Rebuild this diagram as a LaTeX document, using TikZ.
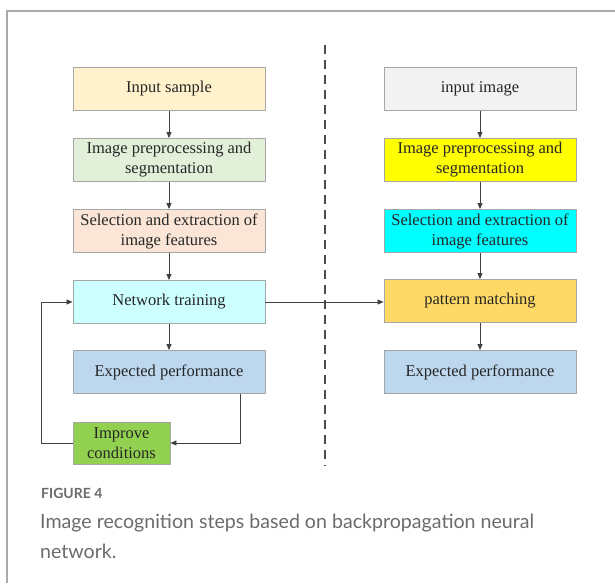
\documentclass[tikz,border=0pt]{standalone}
\usepackage{fontspec}
\setmainfont{Liberation Serif}
\newfontfamily\capfont{Lato}
\usetikzlibrary{arrows.meta}
\definecolor{frameclr}{HTML}{AAAAAA}
\definecolor{edgeclr}{HTML}{A6A6A6}
\definecolor{sampleclr}{HTML}{FFF2CC}
\definecolor{preclr}{HTML}{E2F0D9}
\definecolor{selclr}{HTML}{FBE5D6}
\definecolor{trainclr}{HTML}{CCFFFF}
\definecolor{perfclr}{HTML}{BDD7EE}
\definecolor{improveclr}{HTML}{92D050}
\definecolor{inimgclr}{HTML}{F2F2F2}
\definecolor{brightyellow}{HTML}{FFFF00}
\definecolor{brightcyan}{HTML}{00FFFF}
\definecolor{matchclr}{HTML}{FFD966}
\definecolor{captionclr}{HTML}{6B6B6B}
\tikzset{
  stepbox/.style={draw=edgeclr, line width=0.9pt, minimum width=192pt,
    minimum height=43pt, inner sep=0pt, align=center,
    font=\fontsize{16.5}{20}\selectfont, text=black!85},
  flow/.style={draw=black!75, line width=0.8pt,
    -{Triangle[length=6pt,width=5pt]}},
}
\begin{document}
\begin{tikzpicture}[x=1pt,y=-1pt]
  \useasboundingbox (0,0) rectangle (615,583);
  % card outline
  \draw[frameclr, line width=1.5pt] (7,583) -- (7,11) -- (615,11);

  % training column
  \node[stepbox, fill=sampleclr] (s1) at (169,89) {Input sample};
  \node[stepbox, fill=preclr] (s2) at (169,160) {Image preprocessing and\\segmentation};
  \node[stepbox, fill=selclr] (s3) at (169,231) {Selection and extraction of\\image features};
  \node[stepbox, fill=trainclr] (s4) at (169,302) {Network training};
  \node[stepbox, fill=perfclr] (s5) at (169,372) {Expected performance};
  \node[stepbox, fill=improveclr, minimum width=97pt, minimum height=42pt]
    (s6) at (121.5,443) {Improve\\conditions};

  % recognition column
  \node[stepbox, fill=inimgclr] (r1) at (480,89) {input image};
  \node[stepbox, fill=brightyellow] (r2) at (480,160) {Image preprocessing and\\segmentation};
  \node[stepbox, fill=brightcyan] (r3) at (480,231) {Selection and extraction of\\image features};
  \node[stepbox, fill=matchclr] (r4) at (480,301) {pattern matching};
  \node[stepbox, fill=perfclr] (r5) at (480,372) {Expected performance};

  % separator
  \draw[black!70, line width=1.2pt, dash pattern=on 9pt off 6pt] (325,45) -- (325,466);

  % arrows
  \draw[flow] (s1) -- (s2);
  \draw[flow] (s2) -- (s3);
  \draw[flow] (s3) -- (s4);
  \draw[flow] (s4) -- (s5);
  \draw[flow] (s5.south east) ++(-25,0) coordinate (fb) |- (s6.east);
  \coordinate (lb) at (41,443);
  \draw[flow] (s6.west) -- (lb) |- (s4.west);
  \draw[flow] (s4.east) -- (r4.west |- s4.east);

  \draw[flow] (r1) -- (r2);
  \draw[flow] (r2) -- (r3);
  \draw[flow] (r3) -- (r4);
  \draw[flow] (r4) -- (r5);

  % caption
  \node[anchor=base west, inner sep=0pt, text=captionclr,
    font=\capfont\bfseries\fontsize{14}{16}\selectfont] (figlab) at (41,498) {FIGURE 4};
  \node[anchor=north west, inner sep=0pt, text=captionclr, align=left,
    font=\capfont\fontsize{19.6}{29.5}\selectfont] (figcap) at (40,514)
    {Image recognition steps based on backpropagation neural\\network.};
\end{tikzpicture}
\end{document}
